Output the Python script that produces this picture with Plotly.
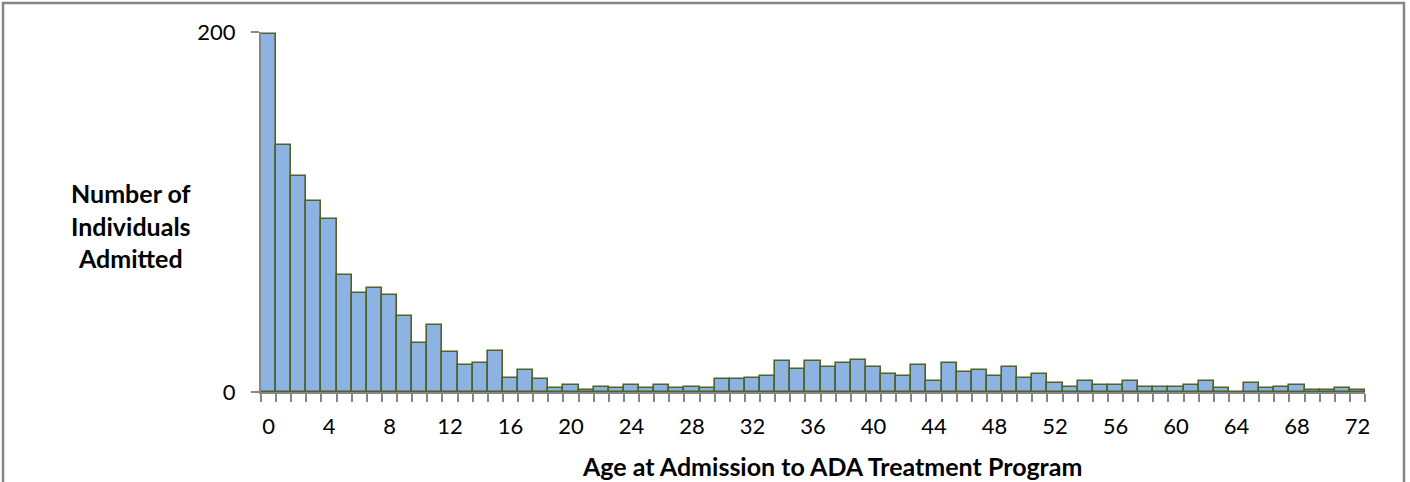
import plotly.graph_objects as go

ages = list(range(73))
admitted = [199, 137, 120, 106, 96, 65, 55, 58, 54, 42,
            27, 37, 22, 15, 16, 23, 8, 12, 7, 2,
            4, 1, 3, 2, 4, 2, 4, 2, 3, 2,
            7, 7, 8, 9, 17, 13, 17, 14, 16, 18,
            14, 10, 9, 15, 6, 16, 11, 12, 9, 14,
            8, 10, 5, 3, 6, 4, 4, 6, 3, 3,
            3, 4, 6, 2, 0, 5, 2, 3, 4, 1,
            1, 2, 1]
label_ticks = list(range(0, 73, 4))
x_title = "Age at Admission to ADA Treatment Program"
y_title = "Number of<br>Individuals<br>Admitted"

FONT = "Lato"
L, R, T, B = 261, 45, 32, 90
W, H = 1410, 482
pw, ph = W - L - R, H - T - B

fig = go.Figure(go.Bar(
    x=ages, y=admitted, width=1.0,
    marker=dict(color="#8DB3E2", line=dict(color="#4F6228", width=1.6)),
))

fig.update_layout(
    width=W, height=H,
    margin=dict(l=L, r=R, t=T, b=B),
    plot_bgcolor="white", paper_bgcolor="white",
    showlegend=False, bargap=0,
    font=dict(family=FONT, color="black"),
    xaxis=dict(
        range=[-0.5, 72.5], tickmode="array", tickvals=label_ticks,
        ticktext=[str(v) for v in label_ticks], ticks="",
        tickfont=dict(size=22, family=FONT), ticklabelstandoff=14,
        showline=True, linecolor="#868686", linewidth=2, showgrid=False, zeroline=False,
        minor=dict(tickmode="linear", tick0=-0.5, dtick=1, ticks="outside",
                   ticklen=8, tickcolor="#868686", tickwidth=1.5, showgrid=False),
    ),
    yaxis=dict(
        range=[0, 200], tickmode="array", tickvals=[0, 200],
        ticks="outside", ticklen=8, tickcolor="#868686", tickwidth=1.5,
        tickfont=dict(size=22, family=FONT), ticklabelstandoff=11,
        showline=True, linecolor="#868686", linewidth=2,
        showgrid=True, gridcolor="#868686", gridwidth=2, zeroline=False,
    ),
    annotations=[
        dict(text="<b>" + y_title + "</b>",
             xref="paper", yref="paper", x=(131 - L) / pw, y=(H - B - 225) / ph,
             xanchor="center", yanchor="middle", showarrow=False, align="center",
             font=dict(size=25, family=FONT)),
        dict(text="<b>" + x_title + "</b>",
             xref="paper", yref="paper", x=(832 - L) / pw, y=(H - B - 466) / ph,
             xanchor="center", yanchor="middle", showarrow=False,
             font=dict(size=25, family=FONT)),
    ],
    shapes=[dict(
        type="rect", xref="paper", yref="paper", layer="below",
        x0=(3 - L) / pw, x1=(1404 - L) / pw,
        y0=(H - B - 490) / ph, y1=(H - B - 3) / ph,
        line=dict(color="#868686", width=2.5), fillcolor="rgba(0,0,0,0)",
    )],
)

fig.write_html("out.html", config={"displayModeBar": False},
               post_script="document.body.style.margin='0';")
